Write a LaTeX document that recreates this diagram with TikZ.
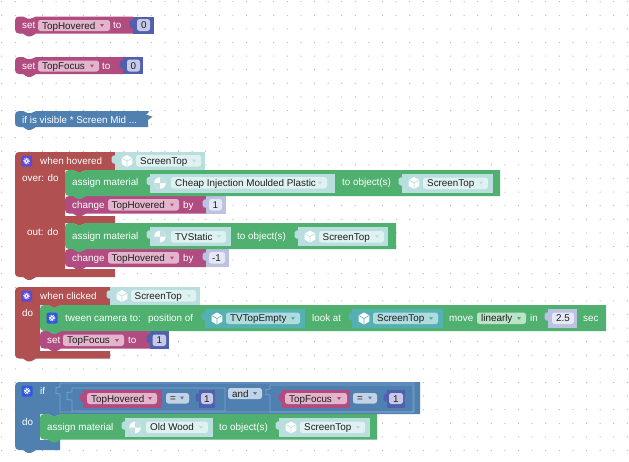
\documentclass[tikz,border=0pt]{standalone}
\usepackage{fontspec}
\setmainfont{Liberation Sans}
\definecolor{cvar}{HTML}{B04C80}
\definecolor{cvarf}{HTML}{E3B5CC}
\definecolor{cred}{HTML}{B05050}
\definecolor{cgreen}{HTML}{4FB070}
\definecolor{cblue}{HTML}{4F80B0}
\definecolor{cblueL}{HTML}{7FA6CC}
\definecolor{cblueF}{HTML}{C3D3E6}
\definecolor{cnum}{HTML}{5060AE}
\definecolor{cnumF}{HTML}{C6CAE6}
\definecolor{clav}{HTML}{BCC2E2}
\definecolor{clavF}{HTML}{E6E8F5}
\definecolor{cteal}{HTML}{B8DEDE}
\definecolor{ctealF}{HTML}{E0F1F1}
\definecolor{cteald}{HTML}{55B0B4}
\definecolor{ctealdF}{HTML}{B0DCDE}
\definecolor{cgreenF}{HTML}{BCE2C8}
\definecolor{cdark}{HTML}{1E1E1E}
\definecolor{cgearP}{HTML}{5E48D4}
\definecolor{cgearB}{HTML}{3058E0}
\definecolor{cballq}{HTML}{C2DEDE}
\newcount\nn
\tikzset{
  lbl/.style={inner sep=0pt,anchor=base west,text=white,font=\fontsize{9.85}{11}\selectfont},
  fldtxt/.style={inner sep=0pt,anchor=base west,text=cdark,font=\fontsize{9.85}{11}\selectfont},
  dot/.style={fill=black!32}
}
\newcommand\wlab[3]{\global\advance\nn by 1 \node[lbl] (w\the\nn) at (#1,{#2+3.5}) {#3};}
\newcommand\fieldbox[7]{\global\advance\nn by 1 \fill[#5,rounded corners=2.5] (#1,#2) rectangle (#3,#4);
  \node[fldtxt] (f\the\nn) at (#6,{(#2+#4)/2+3.5}) {#7};}
\newcommand\ddarrow[3]{\fill[#3] ({#1-2},{#2-1.5}) -- ({#1+2},{#2-1.5}) -- (#1,{#2+1.5}) -- cycle;}
\newcommand\stmtblock[5]{\fill[#5] ({#1+4},#2) -- ({#1+8},#2) .. controls ({#1+10},#2) and ({#1+10},{#2+2}) .. ({#1+12.5},{#2+2}) -- ({#1+16},{#2+2}) .. controls ({#1+19},{#2+2}) and ({#1+19},#2) .. ({#1+21},#2) -- (#3,#2) -- (#3,#4) -- ({#1+21},#4) .. controls ({#1+19},#4) and ({#1+19},{#4+2.8}) .. ({#1+16},{#4+2.8}) -- ({#1+12.5},{#4+2.8}) .. controls ({#1+10},{#4+2.8}) and ({#1+10},#4) .. ({#1+8},#4) -- ({#1+4},#4) .. controls ({#1+1.5},#4) and (#1,{#4-1.5}) .. (#1,{#4-4}) -- (#1,{#2+4}) .. controls (#1,{#2+1.5}) and ({#1+1.5},#2) .. ({#1+4},#2) -- cycle;}
\newcommand\bumpat[3]{\fill[#3] ({#1+8},{#2-.5}) -- ({#1+8},#2) .. controls ({#1+10},#2) and ({#1+10},{#2+2}) .. ({#1+12.5},{#2+2}) -- ({#1+16},{#2+2}) .. controls ({#1+19},{#2+2}) and ({#1+19},#2) .. ({#1+21},#2) -- ({#1+21},{#2-.5}) -- cycle;}
\newcommand\valblock[5]{\fill[#5] (#1,#2) rectangle (#3,#4);
  \fill[#5,rounded corners=1.5] ({#1+1},{#2+3}) -- ({#1-3.5},{#2+4}) -- ({#1-3.5},{#2+11}) -- ({#1+1},{#2+12}) -- cycle;}
\newcommand\cubeicon[3]{\fill[white] ({#1},{#2-6}) -- ({#1+5.4},{#2-3}) -- ({#1+5.4},{#2+3}) -- (#1,{#2+6}) -- ({#1-5.4},{#2+3}) -- ({#1-5.4},{#2-3}) -- cycle;
  \draw[#3,line width=.6] ({#1-5.4},{#2-3}) -- (#1,{#2}) -- ({#1+5.4},{#2-3}) (#1,#2) -- (#1,{#2+6});}
\newcommand\ballicon[3]{\fill[white] (#1,#2) circle (5.8);
  \fill[cballq] (#1,#2) -- ({#1+5.8},#2) arc[start angle=0,end angle=-90,radius=5.8] -- cycle;
  \fill[cballq] (#1,#2) -- ({#1-5.8},#2) arc[start angle=180,end angle=90,radius=5.8] -- cycle;}
\newcommand\gearicon[3]{\fill[#3,rounded corners=1.5] ({#1-5.5},{#2-5.5}) rectangle ({#1+5.5},{#2+5.5});
  \draw[white,line width=1] (#1,#2) circle (1.9);
  \draw[white,line width=.8,dash pattern=on .9pt off .9pt] (#1,#2) circle (2.9);}
\begin{document}
\begin{tikzpicture}[x=1pt,y=-1pt]
\useasboundingbox (0,0) rectangle (629,461);
\fill[white] (0,0) rectangle (629,461);
\foreach \i in {0,...,46}{\foreach \j in {0,...,33}{
  \fill[dot] ({1.7+13.6*\i},{1.7+13.6*\j}) circle (.6);}}

% --- set TopHovered
\stmtblock{15}{16.5}{133}{33.5}{cvar}
\valblock{133}{16.5}{154}{33.5}{cnum}
\wlab{22}{25}{set}
\fieldbox{38}{20}{110}{31}{cvarf}{42}{TopHovered}
\ddarrow{102}{25.5}{cvar}
\wlab{113}{25}{to}
\fieldbox{137}{19}{150}{31}{cnumF}{141}{0}

% --- set TopFocus
\stmtblock{15}{57}{123}{74}{cvar}
\valblock{123}{57}{143}{74}{cnum}
\wlab{22}{65.5}{set}
\fieldbox{38}{60.5}{99}{71.5}{cvarf}{42}{TopFocus}
\ddarrow{92}{66}{cvar}
\wlab{102}{65.5}{to}
\fieldbox{127}{59.5}{140}{71.5}{cnumF}{130.5}{0}

% --- collapsed
\fill[cblue] (19,111) -- (23,111) .. controls (25,111) and (25,113) .. (27.5,113) -- (31,113) .. controls (34,113) and (34,111) .. (36,111) -- (149,111) -- (148,113) -- (146,114.5) -- (152.5,116.7) -- (148,120) -- (148,127) -- (36,127) .. controls (34,127) and (34,129.8) .. (31,129.8) -- (27.5,129.8) .. controls (25,129.8) and (25,127) .. (23,127) -- (19,127) .. controls (16.5,127) and (15,125.5) .. (15,123) -- (15,115) .. controls (15,112.5) and (16.5,111) .. (19,111) -- cycle;
\wlab{22}{119.5}{if is visible * Screen Mid ...}

% --- when hovered
\fill[cred] (19,152) -- (115,152) -- (115,170) -- (65,170) -- (65,216) -- (115,216) -- (115,223) -- (65,223) -- (65,269) -- (115,269) -- (115,277) -- (36,277) .. controls (34,277) and (34,279.8) .. (31,279.8) -- (27.5,279.8) .. controls (25,279.8) and (25,277) .. (23,277) -- (19,277) .. controls (16.5,277) and (15,275.5) .. (15,273) -- (15,156) .. controls (15,153.5) and (16.5,152) .. (19,152) -- cycle;
\bumpat{65}{170}{cred}\bumpat{65}{223}{cred}
\valblock{115}{152}{205}{170}{cteal}
\gearicon{26.5}{161}{cgearP}
\wlab{40}{161}{when hovered}
\cubeicon{127}{161}{cteal}
\fieldbox{136}{155}{201}{166.5}{ctealF}{140}{ScreenTop}
\ddarrow{194}{161}{cteal}
\wlab{22}{178}{over: do}
\wlab{27}{232}{out: do}
\stmtblock{65}{196}{206}{213.5}{cvar}
\valblock{206}{196}{226}{213.5}{clav}
\stmtblock{65}{170}{500}{196}{cgreen}
\wlab{72}{182}{assign material}
\valblock{150}{173.5}{335}{192.5}{cteal}
\ballicon{160}{183}{cteal}
\fieldbox{171}{177}{327}{188.5}{ctealF}{175}{Cheap Injection Moulded Plastic}
\ddarrow{320}{183}{cteal}
\wlab{342}{182}{to object(s)}
\valblock{402}{174}{493}{193}{cteal}
\cubeicon{414}{183}{cteal}
\fieldbox{423}{177.5}{488}{189}{ctealF}{427}{ScreenTop}
\ddarrow{481}{183}{cteal}
\wlab{72}{205}{change}
\fieldbox{108}{199}{179}{210.5}{cvarf}{111.5}{TopHovered}
\ddarrow{172}{205}{cvar}
\wlab{183}{205}{by}
\fieldbox{209}{199}{222}{210.5}{clavF}{212.5}{1}
\stmtblock{65}{249}{206}{267}{cvar}
\valblock{206}{249}{229}{267}{clav}
\stmtblock{65}{223}{396}{249}{cgreen}
\wlab{72}{236}{assign material}
\valblock{150}{227}{231}{246}{cteal}
\ballicon{160}{236.5}{cteal}
\fieldbox{171}{231}{226}{242.5}{ctealF}{175}{TVStatic}
\ddarrow{219}{236.5}{cteal}
\wlab{237}{236}{to object(s)}
\valblock{298}{227}{388}{246}{cteal}
\cubeicon{310}{236.5}{cteal}
\fieldbox{319}{231}{384}{242.5}{ctealF}{322.5}{ScreenTop}
\ddarrow{377}{236.5}{cteal}
\wlab{72}{258}{change}
\fieldbox{108}{252}{179}{263.5}{cvarf}{111.5}{TopHovered}
\ddarrow{172}{258}{cvar}
\wlab{183}{258}{by}
\fieldbox{209}{252}{225}{263.5}{clavF}{212}{-1}

% --- when clicked
\fill[cred] (19,287) -- (110,287) -- (110,305) -- (40,305) -- (40,351) -- (110,351) -- (110,358.5) -- (36,358.5) .. controls (34,358.5) and (34,361.3) .. (31,361.3) -- (27.5,361.3) .. controls (25,361.3) and (25,358.5) .. (23,358.5) -- (19,358.5) .. controls (16.5,358.5) and (15,357) .. (15,354.5) -- (15,291) .. controls (15,288.5) and (16.5,287) .. (19,287) -- cycle;
\bumpat{40}{305}{cred}
\valblock{110}{287}{200}{305}{cteal}
\gearicon{26.5}{296}{cgearP}
\wlab{40}{296}{when clicked}
\cubeicon{122}{296}{cteal}
\fieldbox{131}{290}{196}{301.5}{ctealF}{134.5}{ScreenTop}
\ddarrow{189}{296}{cteal}
\wlab{22}{313}{do}
\stmtblock{40}{331}{150}{348.5}{cvar}
\valblock{150}{331}{169}{348.5}{cnum}
\stmtblock{40}{305}{606}{331}{cgreen}
\gearicon{52}{318}{cgearB}
\wlab{65}{318}{tween camera to:}
\wlab{148}{318}{position of}
\valblock{205}{309}{305}{328}{cteald}
\cubeicon{217}{318.5}{cteald}
\fieldbox{226}{312.5}{300}{324}{ctealdF}{230}{TVTopEmpty}
\ddarrow{293}{318.5}{cteald}
\wlab{312}{318}{look at}
\valblock{352}{309}{443}{328}{cteald}
\cubeicon{364}{318.5}{cteald}
\fieldbox{373}{312.5}{438}{324}{ctealdF}{377}{ScreenTop}
\ddarrow{431}{318.5}{cteald}
\wlab{449}{318}{move}
\fieldbox{477}{312.5}{526}{324}{cgreenF}{481}{linearly}
\ddarrow{519}{318.5}{cgreen}
\wlab{530}{318}{in}
\valblock{548}{309}{577}{328}{clav}
\fieldbox{552}{312.5}{574}{324}{clavF}{556}{2.5}
\wlab{583}{318}{sec}
\wlab{47}{340}{set}
\fieldbox{63}{334.5}{124}{346}{cvarf}{67}{TopFocus}
\ddarrow{117}{340.5}{cvar}
\wlab{128}{340}{to}
\fieldbox{152.5}{334.5}{166}{346}{cnumF}{156.5}{1}

% --- if
\fill[cblue] (19,382) -- (420,382) -- (420,414) -- (40,414) -- (40,440) -- (60,440) -- (60,450) -- (36,450) .. controls (34,450) and (34,452.8) .. (31,452.8) -- (27.5,452.8) .. controls (25,452.8) and (25,450) .. (23,450) -- (19,450) .. controls (16.5,450) and (15,448.5) .. (15,446) -- (15,386) .. controls (15,383.5) and (16.5,382) .. (19,382) -- cycle;
\bumpat{40}{414}{cblue}
\gearicon{27}{391}{cgearB}
\wlab{40}{390.5}{if}
\wlab{22}{422}{do}
\draw[cblueL,line width=.7] (60,383) -- (414,383) -- (414,412) -- (60,412) -- (60,394) -- (56,393.5) -- (56,387.5) -- (60,387) -- cycle;
\draw[cblueL,line width=.7] (72,388) -- (225,388) -- (225,411) -- (72,411) -- (72,400) -- (67,399.5) -- (67,392.5) -- (72,392) -- cycle;
\draw[cblueL,line width=.7] (270,385) -- (413,385) -- (413,412) -- (270,412) -- (270,395) -- (266,394.5) -- (266,389.5) -- (270,389) -- cycle;
\valblock{83}{390}{162}{407.5}{cvar}
\fieldbox{87}{393}{157}{404}{cvarf}{91}{TopHovered}
\ddarrow{150}{398.5}{cvar}
\fieldbox{166}{393}{189}{403.5}{cblueF}{170}{=}
\ddarrow{182}{398}{cblue}
\valblock{199}{390}{215}{407.5}{cnum}
\fieldbox{201}{393}{213}{404}{cnumF}{204}{1}
\fieldbox{228}{388}{262}{399}{cblueF}{232}{and}
\ddarrow{255}{393.5}{cblue}
\valblock{282}{390}{350}{407.5}{cvar}
\fieldbox{285}{393}{347}{404}{cvarf}{289}{TopFocus}
\ddarrow{339}{398.5}{cvar}
\fieldbox{353}{393}{377}{403.5}{cblueF}{357}{=}
\ddarrow{370}{398}{cblue}
\valblock{387}{390}{405}{407.5}{cnum}
\fieldbox{389}{393}{403}{404}{cnumF}{393}{1}
\stmtblock{40}{414}{377}{439.5}{cgreen}
\wlab{47}{427}{assign material}
\valblock{125}{418}{213}{437}{cteal}
\ballicon{135}{427.5}{cteal}
\fieldbox{146}{421.5}{208}{433}{ctealF}{150}{Old Wood}
\ddarrow{201}{427.5}{cteal}
\wlab{219}{427}{to object(s)}
\valblock{279}{418}{370}{437}{cteal}
\cubeicon{291}{427.5}{cteal}
\fieldbox{300}{421.5}{365}{433}{ctealF}{304}{ScreenTop}
\ddarrow{358}{427.5}{cteal}
\end{tikzpicture}
\end{document}
